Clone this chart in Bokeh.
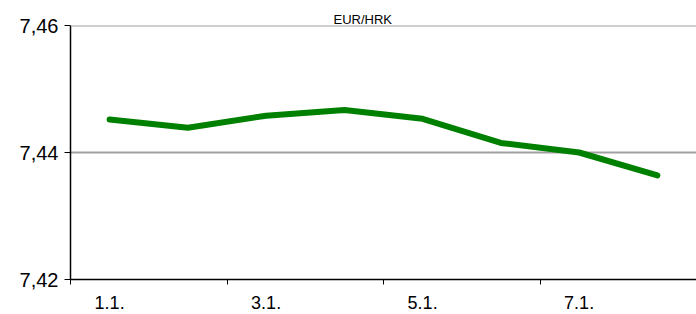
from bokeh.plotting import figure
from bokeh.models import FixedTicker, Range1d, Title, Span, ColumnDataSource
from bokeh.embed import file_html
from bokeh.resources import INLINE

dates = ["1.1.", "2.1.", "3.1.", "4.1.", "5.1.", "6.1.", "7.1.", "8.1."]
eur_hrk = [7.4452, 7.4439, 7.4458, 7.4467, 7.4453, 7.4415, 7.4400, 7.4364]
y_ticks = [7.42, 7.44, 7.46]
title_text = "EUR/HRK"

xs = [i + 0.5 for i in range(len(dates))]
src = ColumnDataSource(dict(x=xs, y=eur_hrk, d=dates))

p = figure(width=696, height=314, output_backend="svg", toolbar_location=None,
           x_range=Range1d(0, len(dates)), y_range=Range1d(y_ticks[0], y_ticks[-1]),
           min_border_left=70, min_border_right=0, min_border_top=25, min_border_bottom=35)
p.outline_line_color = None
p.background_fill_color = "white"
p.border_fill_color = "white"

p.add_layout(Title(text=title_text, align="left", offset=263, standoff=-3,
                   vertical_align="bottom", text_font="Liberation Sans",
                   text_font_size="13px", text_font_style="normal",
                   text_color="black"), "above")

# grid lines (including the top one at the range end)
p.xgrid.grid_line_color = None
p.ygrid.ticker = FixedTicker(ticks=y_ticks[1:-1])
p.ygrid.grid_line_color = "#a0a0a0"
p.ygrid.grid_line_width = 2
p.add_layout(Span(location=y_ticks[-1], dimension="width",
                  line_color="#a0a0a0", line_width=2))

p.line("x", "y", source=src, line_color="#008000", line_width=6,
       line_join="round", line_cap="round")

# x axis: ticks at boundaries every 2 categories, labels at every second category
label_pos = xs[::2]
p.xaxis.ticker = FixedTicker(ticks=label_pos, minor_ticks=list(range(0, len(dates) + 1, 2)))
p.xaxis.major_label_overrides = {xs[i]: dates[i] for i in range(0, len(dates), 2)}
p.xaxis.major_tick_out = 0
p.xaxis.major_tick_in = 0
p.xaxis.minor_tick_out = 5
p.xaxis.minor_tick_in = 0
p.xaxis.minor_tick_line_color = "black"
p.xaxis.axis_line_color = "black"
p.xaxis.axis_line_width = 1.5
p.xaxis.major_label_text_font = "Liberation Sans"
p.xaxis.major_label_text_font_size = "18px"
p.xaxis.major_label_text_color = "black"
p.xaxis.major_label_standoff = 11

p.yaxis.ticker = FixedTicker(ticks=y_ticks, minor_ticks=[])
p.yaxis.major_label_overrides = {t: f"{t:.2f}".replace(".", ",") for t in y_ticks}
p.yaxis.major_tick_out = 6
p.yaxis.major_tick_in = 0
p.yaxis.major_tick_line_color = "black"
p.yaxis.axis_line_color = "black"
p.yaxis.axis_line_width = 1.5
p.yaxis.major_label_text_font = "Liberation Sans"
p.yaxis.major_label_text_font_size = "20px"
p.yaxis.major_label_text_color = "black"
p.yaxis.major_label_standoff = 6

open("out.html", "w").write(file_html(p, INLINE))
